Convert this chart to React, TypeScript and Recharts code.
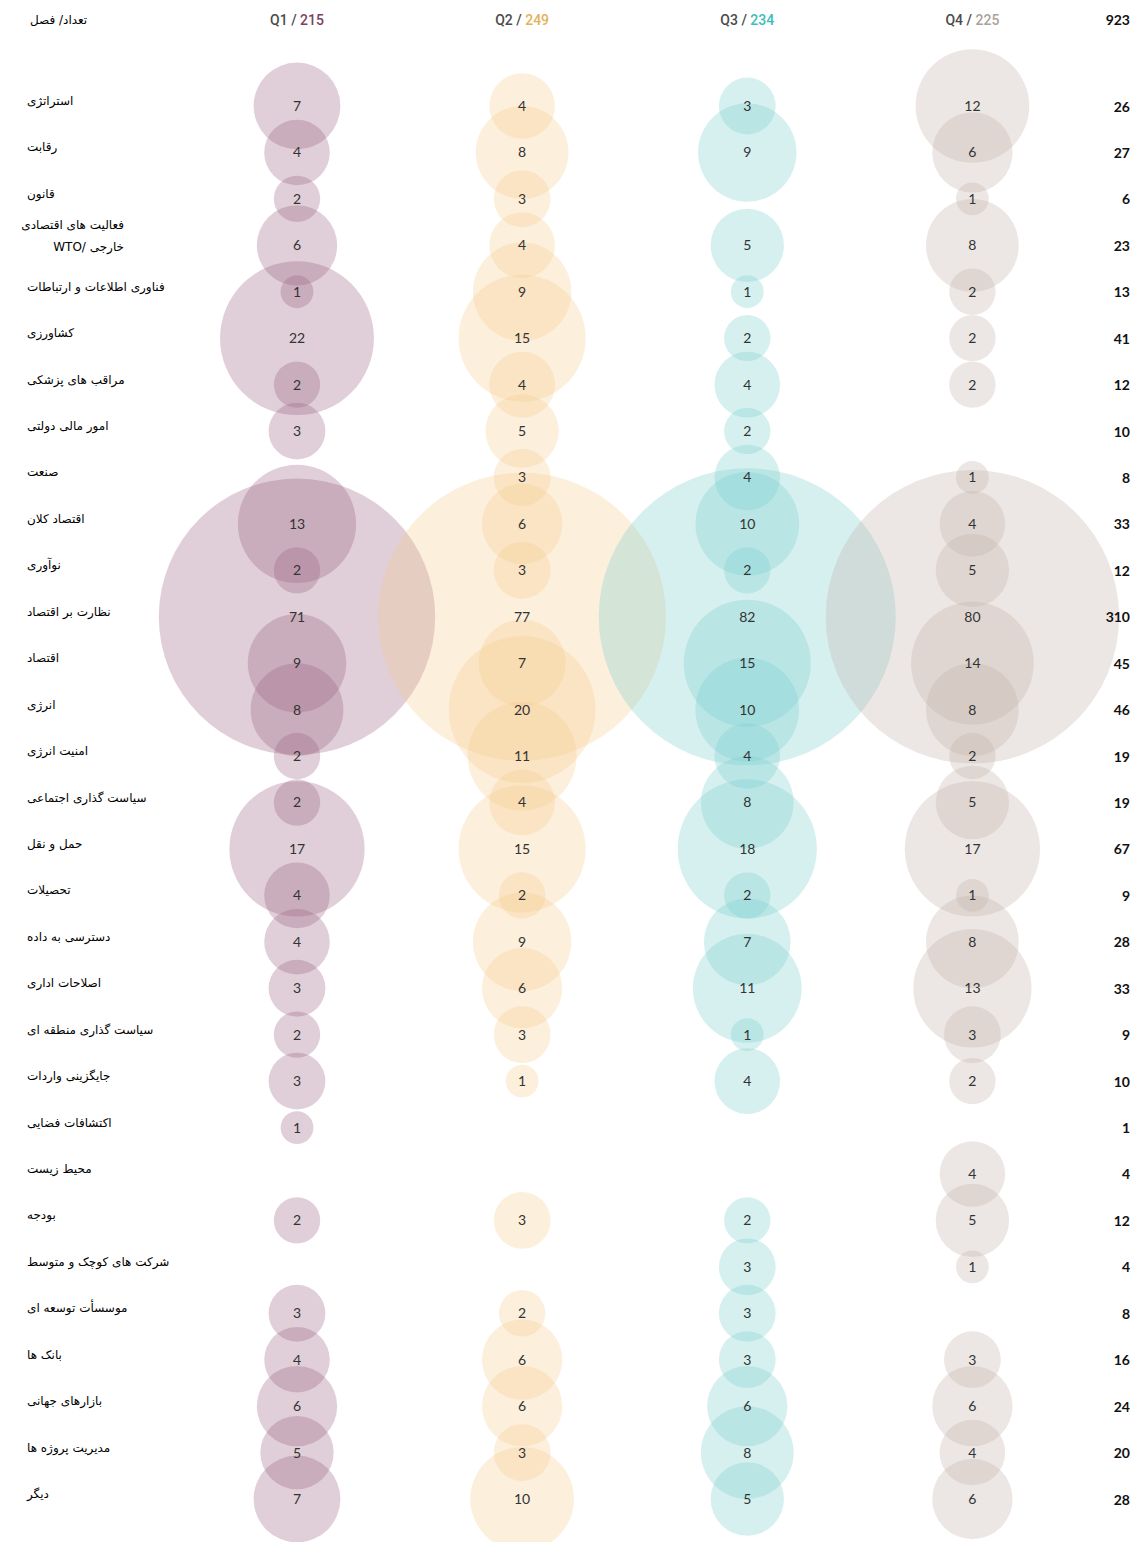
import React from 'react';
import { ScatterChart, Scatter, XAxis, YAxis, ZAxis, LabelList } from 'recharts';

const categories: string[] = [
  'استراتژی',
  'رقابت',
  'قانون',
  'فعالیت های اقتصادی\nWTO/  خارجی',
  'فناوری اطلاعات و ارتباطات',
  'کشاورزی',
  'مراقب های پزشکی',
  'امور مالی دولتی',
  'صنعت',
  'اقتصاد کلان',
  'نوآوری',
  'نظارت بر اقتصاد',
  'اقتصاد',
  'انرژی',
  'امنیت انرژی',
  'سیاست گذاری اجتماعی',
  'حمل و نقل',
  'تحصیلات',
  'دسترسی به داده',
  'اصلاحات اداری',
  'سیاست گذاری منطقه ای',
  'جایگزینی واردات',
  'اکتشافات فضایی',
  'محیط زیست',
  'بودجه',
  'شرکت های کوچک و متوسط',
  'موسسأت توسعه ای',
  'بانک ها',
  'بازارهای جهانی',
  'مدیریت پروژه ها',
  'دیگر',
];

const q1: (number | null)[] = [7, 4, 2, 6, 1, 22, 2, 3, null, 13, 2, 71, 9, 8, 2, 2, 17, 4, 4, 3, 2, 3, 1, null, 2, null, 3, 4, 6, 5, 7];
const q2: (number | null)[] = [4, 8, 3, 4, 9, 15, 4, 5, 3, 6, 3, 77, 7, 20, 11, 4, 15, 2, 9, 6, 3, 1, null, null, 3, null, 2, 6, 6, 3, 10];
const q3: (number | null)[] = [3, 9, null, 5, 1, 2, 4, 2, 4, 10, 2, 82, 15, 10, 4, 8, 18, 2, 7, 11, 1, 4, null, null, 2, 3, 3, 3, 6, 8, 5];
const q4: (number | null)[] = [12, 6, 1, 8, 2, 2, 2, null, 1, 4, 5, 80, 14, 8, 2, 5, 17, 1, 8, 13, 3, 2, null, 4, 5, 1, null, 3, 6, 4, 6];

const quarterNames: string[] = ['Q1', 'Q2', 'Q3', 'Q4'];
const seriesValues = [q1, q2, q3, q4];
const bubbleColors: string[] = [
  'rgba(152,95,125,0.3)',
  'rgba(245,202,138,0.3)',
  'rgba(118,205,205,0.3)',
  'rgba(192,175,165,0.3)',
];
const headerColors: string[] = ['#7d3f63', '#e3b25a', '#3cbcbc', '#aaa29b'];

// column slot of the "total" column (right edge of the plot)
const TOTAL_SLOT = 3.7;

const quarterTotals = seriesValues.map((s) => s.reduce((a: number, v) => a + (v ?? 0), 0));
const rowTotals = categories.map((_, i) => seriesValues.reduce((a: number, s) => a + (s[i] ?? 0), 0));
const grandTotal = rowTotals.reduce((a, b) => a + b, 0);

const seriesData = seriesValues.map((s, qi) =>
  s
    .map((v, ri) => (v == null ? null : { x: qi, y: ri, v }))
    .filter((d) => d !== null) as { x: number; y: number; v: number }[]
);
const totalsData = rowTotals.map((t, ri) => ({ x: TOTAL_SLOT, y: ri, t }));

const rowTicks = categories.map((_, i) => i);

const PERSIAN_FONT = '"DejaVu Sans", sans-serif';

const LeftTick = (props: any) => {
  const { y, payload } = props;
  const label = categories[payload.value] ?? '';
  const lines = label.split('\n');
  if (lines.length > 1) {
    return (
      <g>
        <text x={124} y={y - 20} textAnchor="end" dominantBaseline="central" fontFamily={PERSIAN_FONT} fontSize={12} fill="#000">
          {lines[0]}
        </text>
        <text x={124} y={y + 2} textAnchor="end" dominantBaseline="central" fontFamily={PERSIAN_FONT} fontSize={12} fill="#000">
          {lines[1]}
        </text>
      </g>
    );
  }
  return (
    <text x={27} y={y - 5} textAnchor="start" dominantBaseline="central" fontFamily={PERSIAN_FONT} fontSize={12} fill="#000">
      {label}
    </text>
  );
};

const TopTick = (props: any) => {
  const { x, payload } = props;
  const qi = payload.value as number;
  return (
    <text x={x} y={20} textAnchor="middle" dominantBaseline="central" fontFamily="Roboto, sans-serif" fontWeight={500} fontSize={14}>
      <tspan fill="#4b4b4b">{quarterNames[qi]} / </tspan>
      <tspan fill={headerColors[qi]}>{quarterTotals[qi]}</tspan>
    </text>
  );
};

const TotalShape = (props: any) => {
  const { cx, cy, payload } = props;
  return (
    <text x={cx} y={cy} textAnchor="end" dominantBaseline="central" fontFamily="Lato, sans-serif" fontWeight={700} fontSize={14} fill="#111">
      {payload.t}
    </text>
  );
};

export default function App() {
  return (
    <div style={{ position: 'absolute', left: 0, top: 0, width: 1132, height: 1542, background: '#fff' }}>
      <ScatterChart width={1132} height={1542} margin={{ top: 0, right: 2, bottom: 43, left: 0 }}>
        <XAxis
          xAxisId={0}
          type="number"
          dataKey="x"
          orientation="top"
          domain={[0, TOTAL_SLOT]}
          ticks={[0, 1, 2, 3]}
          interval={0}
          height={106}
          axisLine={false}
          tickLine={false}
          tick={<TopTick />}
        />
        <YAxis
          yAxisId={0}
          type="number"
          dataKey="y"
          domain={[0, 30]}
          reversed
          ticks={rowTicks}
          interval={0}
          width={297}
          axisLine={false}
          tickLine={false}
          tick={<LeftTick />}
        />
        <ZAxis type="number" dataKey="v" domain={[0, 82]} range={[0, 69300]} />
        {seriesData.map((d, qi) => (
          <Scatter
            key={qi}
            name={quarterNames[qi]}
            data={d}
            xAxisId={0}
            yAxisId={0}
            fill={bubbleColors[qi]}
            shape="circle"
            isAnimationActive={false}
          >
            <LabelList dataKey="v" position="center" fill="#333" fontSize={14} fontFamily="Lato, sans-serif" />
          </Scatter>
        ))}
        <Scatter
          name="total"
          data={totalsData}
          xAxisId={0}
          yAxisId={0}
          isAnimationActive={false}
          shape={<TotalShape />}
        />
      </ScatterChart>
      <div
        style={{
          position: 'absolute',
          left: 30,
          top: 11,
          fontFamily: PERSIAN_FONT,
          fontSize: 12,
          color: '#000',
          lineHeight: '18px',
          direction: 'rtl',
        }}
      >
        تعداد/ فصل
      </div>
      <div
        style={{
          position: 'absolute',
          right: 2,
          top: 10,
          fontFamily: 'Lato, sans-serif',
          fontWeight: 700,
          fontSize: 14,
          color: '#111',
          lineHeight: '20px',
        }}
      >
        {grandTotal}
      </div>
    </div>
  );
}
